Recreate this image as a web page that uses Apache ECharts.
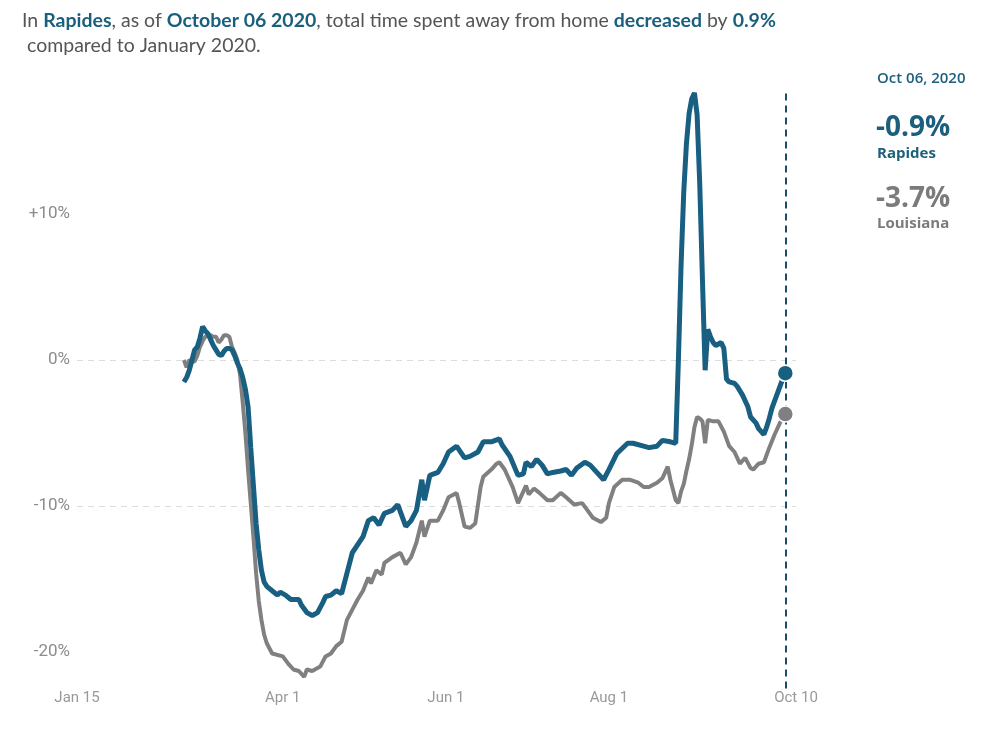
<!DOCTYPE html>
<html>
<head>
<meta charset="utf-8">
<script src="https://cdn.jsdelivr.net/npm/echarts@6/dist/echarts.min.js"></script>
<style>
html,body{margin:0;padding:0;background:#fff;}
#chart{width:991px;height:736px;}
</style>
</head>
<body>
<div id="chart"></div>
<script>
// ---- data (percent change in time spent away from home vs Jan 2020) ----
const rapidesDates = [
'2020-02-24','2020-02-25','2020-02-26','2020-02-27','2020-02-28','2020-02-29','2020-03-01','2020-03-02','2020-03-03','2020-03-04',
'2020-03-05','2020-03-06','2020-03-07','2020-03-08','2020-03-09','2020-03-10','2020-03-11','2020-03-12','2020-03-13','2020-03-14',
'2020-03-15','2020-03-16','2020-03-17','2020-03-18','2020-03-19','2020-03-20','2020-03-21','2020-03-22','2020-03-23','2020-03-24',
'2020-03-25','2020-03-26','2020-03-28','2020-03-30','2020-03-31','2020-04-02','2020-04-04','2020-04-07','2020-04-08','2020-04-10',
'2020-04-12','2020-04-14','2020-04-16','2020-04-17','2020-04-19','2020-04-21','2020-04-23','2020-04-25','2020-04-27','2020-05-01',
'2020-05-03','2020-05-05','2020-05-07','2020-05-09','2020-05-12','2020-05-14','2020-05-17','2020-05-19','2020-05-21','2020-05-23',
'2020-05-24','2020-05-26','2020-05-29','2020-05-31','2020-06-02','2020-06-05','2020-06-08','2020-06-10','2020-06-13','2020-06-15',
'2020-06-18','2020-06-21','2020-06-22','2020-06-25','2020-06-28','2020-06-30','2020-07-01','2020-07-03','2020-07-05','2020-07-07',
'2020-07-09','2020-07-11','2020-07-14','2020-07-16','2020-07-18','2020-07-20','2020-07-23','2020-07-25','2020-07-28','2020-07-30',
'2020-08-01','2020-08-04','2020-08-08','2020-08-10','2020-08-14','2020-08-16','2020-08-19','2020-08-21','2020-08-24','2020-08-26',
'2020-08-27','2020-08-28','2020-08-29','2020-08-30','2020-08-31','2020-09-01','2020-09-02','2020-09-03','2020-09-04','2020-09-05',
'2020-09-06','2020-09-07','2020-09-08','2020-09-09','2020-09-10','2020-09-11','2020-09-12','2020-09-13','2020-09-14','2020-09-15',
'2020-09-17','2020-09-18','2020-09-20','2020-09-22','2020-09-23','2020-09-25','2020-09-26','2020-09-28','2020-09-29','2020-09-30',
'2020-10-01','2020-10-02','2020-10-03','2020-10-04','2020-10-05','2020-10-06'
];
const rapidesValues = [
-1.5,-1.2,-0.7,0.0,0.7,0.9,1.5,2.3,2.0,1.8,
1.4,1.0,0.7,0.4,0.3,0.6,0.8,0.8,0.7,0.3,
-0.2,-0.6,-1.2,-2.0,-3.2,-6.0,-8.6,-11.2,-13.0,-14.4,
-15.2,-15.5,-15.8,-16.1,-15.9,-16.1,-16.4,-16.4,-16.8,-17.3,
-17.5,-17.3,-16.6,-16.2,-16.1,-15.8,-16.0,-14.6,-13.2,-12.1,
-11.0,-10.8,-11.3,-10.5,-10.3,-9.9,-11.4,-11.0,-10.3,-8.2,
-9.6,-7.9,-7.7,-7.1,-6.3,-5.9,-6.7,-6.6,-6.3,-5.6,
-5.6,-5.4,-5.8,-6.6,-7.9,-7.8,-7.0,-7.3,-6.8,-7.2,
-7.8,-7.7,-7.6,-7.5,-7.9,-7.4,-7.0,-7.2,-7.8,-8.2,
-7.5,-6.4,-5.7,-5.7,-5.9,-6.0,-5.9,-5.5,-5.6,-5.7,
0.0,6.5,11.5,14.8,16.9,17.9,18.3,16.8,12.0,5.5,
-0.7,2.1,1.6,1.2,1.0,1.1,1.2,0.8,-1.3,-1.5,
-1.6,-1.8,-2.4,-3.2,-3.9,-4.3,-4.7,-5.1,-4.6,-4.0,
-3.3,-2.8,-2.3,-1.8,-1.3,-0.9
];
const louisianaDates = [
'2020-02-24','2020-02-25','2020-02-26','2020-02-27','2020-02-28','2020-02-29','2020-03-01','2020-03-02','2020-03-03','2020-03-04',
'2020-03-05','2020-03-06','2020-03-07','2020-03-08','2020-03-09','2020-03-10','2020-03-11','2020-03-12','2020-03-13','2020-03-14',
'2020-03-15','2020-03-16','2020-03-17','2020-03-18','2020-03-19','2020-03-20','2020-03-21','2020-03-22','2020-03-23','2020-03-24',
'2020-03-25','2020-03-26','2020-03-28','2020-04-01','2020-04-03','2020-04-05','2020-04-07','2020-04-09','2020-04-10','2020-04-12',
'2020-04-15','2020-04-17','2020-04-19','2020-04-21','2020-04-23','2020-04-25','2020-04-27','2020-04-29','2020-05-01','2020-05-03',
'2020-05-04','2020-05-06','2020-05-08','2020-05-09','2020-05-12','2020-05-15','2020-05-17','2020-05-19','2020-05-21','2020-05-23',
'2020-05-24','2020-05-26','2020-05-29','2020-05-31','2020-06-02','2020-06-05','2020-06-06','2020-06-08','2020-06-10','2020-06-12',
'2020-06-14','2020-06-15','2020-06-18','2020-06-20','2020-06-21','2020-06-23','2020-06-26','2020-06-28','2020-06-30','2020-07-01',
'2020-07-02','2020-07-04','2020-07-06','2020-07-09','2020-07-11','2020-07-14','2020-07-16','2020-07-19','2020-07-22','2020-07-24',
'2020-07-26','2020-07-29','2020-07-31','2020-08-01','2020-08-03','2020-08-06','2020-08-09','2020-08-12','2020-08-14','2020-08-16',
'2020-08-19','2020-08-21','2020-08-23','2020-08-24','2020-08-26','2020-08-27','2020-08-28','2020-08-29','2020-08-30','2020-08-31',
'2020-09-01','2020-09-02','2020-09-03','2020-09-04','2020-09-05','2020-09-06','2020-09-07','2020-09-09','2020-09-11','2020-09-13',
'2020-09-15','2020-09-17','2020-09-19','2020-09-21','2020-09-23','2020-09-24','2020-09-26','2020-09-28','2020-09-30','2020-10-02',
'2020-10-04','2020-10-06'
];
const louisianaValues = [
0.0,-0.5,0.0,-0.1,-0.1,0.3,0.9,1.3,1.6,1.7,
1.7,1.6,1.6,1.2,1.4,1.7,1.7,1.6,0.9,0.5,
0.0,-1.0,-2.9,-5.0,-7.5,-9.8,-12.1,-14.6,-16.5,-17.8,
-18.8,-19.4,-20.1,-20.3,-20.8,-21.2,-21.3,-21.7,-21.2,-21.3,
-21.0,-20.3,-20.1,-19.6,-19.3,-17.8,-17.1,-16.4,-15.8,-14.9,
-15.3,-14.4,-14.7,-13.9,-13.5,-13.2,-14.0,-13.5,-12.5,-11.0,
-12.1,-11.0,-11.0,-10.3,-9.4,-9.1,-9.8,-11.4,-11.5,-11.2,
-8.7,-8.0,-7.5,-7.1,-7.0,-7.5,-8.7,-9.8,-9.0,-8.6,
-9.2,-8.8,-9.1,-9.6,-9.6,-9.1,-9.4,-9.9,-9.8,-10.3,
-10.8,-11.1,-10.8,-9.8,-8.7,-8.2,-8.2,-8.4,-8.7,-8.7,
-8.4,-8.1,-7.3,-8.2,-9.6,-9.8,-9.0,-8.5,-7.6,-6.8,
-5.8,-4.6,-3.9,-4.0,-4.2,-5.7,-4.1,-4.2,-4.2,-4.9,
-5.9,-6.3,-7.1,-6.7,-7.4,-7.5,-7.1,-7.0,-6.0,-5.1,
-4.3,-3.7
];
const xTickDates = ['2020-01-15','2020-04-01','2020-06-01','2020-08-01','2020-10-10'];
const xTickLabels = ['Jan 15','Apr 1','Jun 1','Aug 1','Oct 10'];
const yTickValues = [-20,-10,0,10];
const markDate = '2020-10-06';

// ---- helpers ----
function ts(s){ const p=s.split('-'); return Date.UTC(+p[0], +p[1]-1, +p[2]); }
function pairs(d,v){ return d.map((x,i)=>[ts(x), v[i]]); }
const TEAL = '#195f82';
const GRAY = '#808080';
const FONT = 'Lato, "Noto Sans", sans-serif';
const AFONT = '"Open Sans", Lato, sans-serif';
const xTickTs = xTickDates.map(ts);

const chart = echarts.init(document.getElementById('chart'), null, {renderer:'canvas'});
const rLast = rapidesValues.length-1, lLast = louisianaValues.length-1;

chart.setOption({
  animation:false,
  backgroundColor:'#fff',
  textStyle:{fontFamily:FONT},
  grid:{left:77, right:195, top:90, bottom:47.5, containLabel:false},
  xAxis:{
    type:'value',
    min:ts('2020-01-15'), max:ts('2020-10-10'),
    axisLine:{show:false},
    axisTick:{show:false, customValues:xTickTs},
    splitLine:{show:false},
    axisLabel:{
      customValues:xTickTs,
      margin:2,
      color:'#999', fontSize:15, fontFamily:'Roboto, sans-serif',
      formatter:function(val){ const i=xTickTs.indexOf(val); return i>=0?xTickLabels[i]:''; }
    }
  },
  yAxis:{
    type:'value', min:-22.5, max:18.5,
    axisLine:{show:false},
    axisTick:{show:false, customValues:yTickValues},
    axisLabel:{
      customValues:yTickValues,
      margin:7, color:'#8c8c8c', fontSize:17, fontFamily:'Roboto, sans-serif',
      formatter:function(v){ return (v>0?'+':'')+v+'%'; }
    },
    splitLine:{show:true, showMinLine:false, showMaxLine:false,
      lineStyle:{color:'#dcdcdc', width:1.2, type:[6,5]}}
  },
  series:[
    {
      name:'Louisiana', type:'line', data:pairs(louisianaDates,louisianaValues),
      showSymbol:false, symbol:'none', smooth:false,
      lineStyle:{color:GRAY, width:4}, z:2
    },
    {
      name:'Rapides', type:'line', data:pairs(rapidesDates,rapidesValues),
      showSymbol:false, symbol:'none', smooth:false,
      lineStyle:{color:TEAL, width:5}, z:3,
      markLine:{
        silent:true, symbol:'none', label:{show:false},
        lineStyle:{color:'#1d4d66', width:2, type:[7,5]},
        data:[{xAxis:ts(markDate)}]
      }
    },
    {
      type:'scatter', symbolSize:16, z:5,
      data:[[ts(louisianaDates[lLast]), louisianaValues[lLast]]],
      itemStyle:{color:GRAY, opacity:1, borderColor:'#fff', borderWidth:1.5}
    },
    {
      type:'scatter', symbolSize:16, z:6,
      data:[[ts(rapidesDates[rLast]), rapidesValues[rLast]]],
      itemStyle:{color:TEAL, opacity:1, borderColor:'#fff', borderWidth:1.5}
    }
  ],
  graphic:[
    {type:'text', x:22, y:8, style:{
      text:'{n|In }{b|Rapides}{n|, as of }{b|October 06 2020}{n|, total time spent away from home }{b|decreased}{n| by }{b|0.9%}\n{n| compared to January 2020.}',
      rich:{
        n:{fontFamily:FONT, fontSize:19.5, fill:'#555555', lineHeight:25},
        b:{fontFamily:FONT, fontSize:19.5, fontWeight:'bold', fill:'#1a5f7e', lineHeight:25}
      }
    }},
    {type:'text', x:877, y:79, style:{text:'Oct 06, 2020', fontFamily:AFONT, fontSize:15, fontWeight:600, fill:'#1d5f7c', verticalAlign:'middle'}},
    {type:'text', x:876, y:128, style:{text:'-0.9%', fontFamily:AFONT, fontSize:28, fontWeight:'bold', fill:'#1b5e7d', verticalAlign:'middle'}},
    {type:'text', x:877, y:154, style:{text:'Rapides', fontFamily:AFONT, fontSize:15, fontWeight:'bold', fill:'#1d5f7c', verticalAlign:'middle'}},
    {type:'text', x:876, y:199, style:{text:'-3.7%', fontFamily:AFONT, fontSize:28, fontWeight:'bold', fill:'#7b7b7b', verticalAlign:'middle'}},
    {type:'text', x:877, y:224, style:{text:'Louisiana', fontFamily:AFONT, fontSize:15, fontWeight:'bold', fill:'#7b7b7b', verticalAlign:'middle'}}
  ]
});
</script>
</body>
</html>
